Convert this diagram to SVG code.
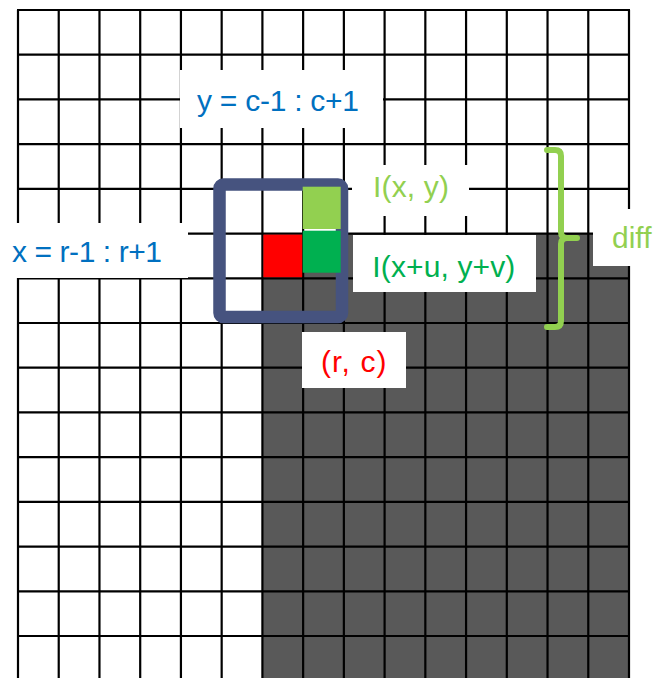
<svg xmlns="http://www.w3.org/2000/svg" width="655" height="678" viewBox="0 0 655 678">
<style>
.grid line{stroke:#000;stroke-width:2.2}
.lbl{fill:#fff}
text{font-family:"Liberation Sans",Arial,sans-serif;font-size:30px}
.blue{fill:#0070c0}
.lg{fill:#92d050}
.dg{fill:#00b050}
.rd{fill:#ff0000}
</style>
<rect x="0" y="0" width="655" height="678" fill="#fff"/>
<g id="dark-region"><rect x="262.4" y="233.5" width="366.6" height="445" fill="#595959"/></g>
<g id="grid" class="grid">
<line x1="18" y1="10" x2="18" y2="678"/>
<line x1="58.73" y1="10" x2="58.73" y2="678"/>
<line x1="99.47" y1="10" x2="99.47" y2="678"/>
<line x1="140.2" y1="10" x2="140.2" y2="678"/>
<line x1="180.93" y1="10" x2="180.93" y2="678"/>
<line x1="221.67" y1="10" x2="221.67" y2="678"/>
<line x1="262.4" y1="10" x2="262.4" y2="678"/>
<line x1="303.13" y1="10" x2="303.13" y2="678"/>
<line x1="343.87" y1="10" x2="343.87" y2="678"/>
<line x1="384.6" y1="10" x2="384.6" y2="678"/>
<line x1="425.33" y1="10" x2="425.33" y2="678"/>
<line x1="466.07" y1="10" x2="466.07" y2="678"/>
<line x1="506.8" y1="10" x2="506.8" y2="678"/>
<line x1="547.53" y1="10" x2="547.53" y2="678"/>
<line x1="588.27" y1="10" x2="588.27" y2="678"/>
<line x1="629" y1="10" x2="629" y2="678"/>
<line x1="17" y1="10" x2="630" y2="10"/>
<line x1="17" y1="54.71" x2="630" y2="54.71"/>
<line x1="17" y1="99.43" x2="630" y2="99.43"/>
<line x1="17" y1="144.14" x2="630" y2="144.14"/>
<line x1="17" y1="188.86" x2="630" y2="188.86"/>
<line x1="17" y1="233.57" x2="630" y2="233.57"/>
<line x1="17" y1="278.29" x2="630" y2="278.29"/>
<line x1="17" y1="323" x2="630" y2="323"/>
<line x1="17" y1="367.71" x2="630" y2="367.71"/>
<line x1="17" y1="412.43" x2="630" y2="412.43"/>
<line x1="17" y1="457.14" x2="630" y2="457.14"/>
<line x1="17" y1="501.86" x2="630" y2="501.86"/>
<line x1="17" y1="546.57" x2="630" y2="546.57"/>
<line x1="17" y1="591.29" x2="630" y2="591.29"/>
<line x1="17" y1="636" x2="630" y2="636"/>
</g>
<g id="cell-rc"><rect x="263.4" y="234.6" width="38.8" height="42.6" fill="#ff0000"/></g>
<g id="window"><rect x="219.5" y="184.5" width="122.5" height="132.5" rx="4" fill="none" stroke="#46537f" stroke-width="12.5"/></g>
<g id="cell-xy"><rect x="302.7" y="186.7" width="38" height="42.3" fill="#92d050"/></g>
<g id="cell-xuyv"><rect x="302.7" y="230.7" width="38" height="42" fill="#00b050"/></g>
<g id="label-y">
<rect class="lbl" x="180" y="70" width="203" height="58"/>
<text class="blue" x="197" y="111" textLength="162" lengthAdjust="spacing">y = c-1 : c+1</text>
</g>
<g id="label-x">
<rect class="lbl" x="0" y="223" width="188" height="55"/>
<text class="blue" x="12" y="262" textLength="150" lengthAdjust="spacing">x = r-1 : r+1</text>
</g>
<g id="label-ixy">
<rect class="lbl" x="352" y="165" width="117" height="51"/>
<text class="lg" x="373" y="197" textLength="76" lengthAdjust="spacing">I(x, y)</text>
</g>
<g id="label-ixuyv">
<rect class="lbl" x="353" y="235" width="183" height="57"/>
<text class="dg" x="372.3" y="277" textLength="143" lengthAdjust="spacing">I(x+u, y+v)</text>
</g>
<g id="label-rc">
<rect class="lbl" x="302" y="332" width="104" height="56"/>
<text class="rd" x="321" y="372" textLength="65.5" lengthAdjust="spacing">(r, c)</text>
</g>
<g id="label-diff">
<rect class="lbl" x="593" y="209" width="62" height="57"/>
<text class="lg" x="612" y="248">diff</text>
</g>
<g id="connectors">
<path d="M547 150 L555 150 Q561 150 561 156 L561 232 Q561 238 567 238 L577 238 M567 238 Q561 238 561 244 L561 321 Q561 327 555 327 L547 327" fill="none" stroke="#92d050" stroke-width="6" stroke-linecap="round" stroke-linejoin="round"/>
</g>
</svg>
